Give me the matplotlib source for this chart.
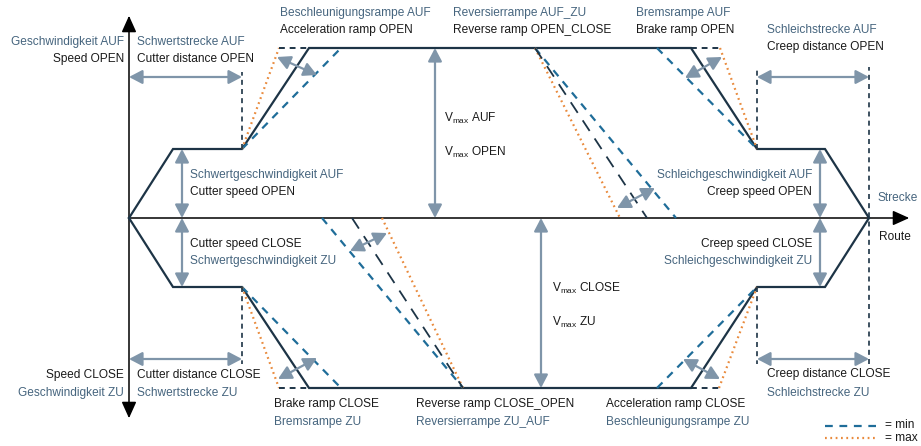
import matplotlib
matplotlib.use("Agg")
import matplotlib.pyplot as plt

# route positions (px from speed axis) and speed levels of the nominal profile
route = [0, 44, 113, 180, 562, 628, 696, 740]
speed_open = [0, 69, 69, 170, 170, 69, 69, 0]
speed_close = [0, -69, -69, -170, -170, -69, -69, 0]

# min / max ramp variants: (x0, v0, x1, v1)
ramps_min = [(113, 69, 212, 170), (406, 170, 547, 0), (528, 170, 628, 69),
             (113, -69, 212, -170), (193, 0, 334, -170), (528, -170, 628, -69)]
ramps_max = [(113, 69, 150, 170), (406, 170, 491, 0), (591, 170, 628, 69),
             (113, -69, 150, -170), (253, 0, 334, -170), (590, -170, 628, -69)]
ramps_nom = [(406, 170, 518, 0), (223, 0, 334, -170)]

NAVY = "#1d3446"
BLUE = "#1f6d99"
ORANGE = "#e98a3c"
GREY = "#7f95a9"
GER = "#46657e"
ENG = "#1a1a1a"

plt.rcParams['font.family'] = ['Liberation Sans', 'DejaVu Sans']
plt.rcParams['mathtext.fontset'] = 'custom'
plt.rcParams['mathtext.rm'] = 'Liberation Sans'

fig = plt.figure(figsize=(9.21, 4.46), dpi=100)
ax = fig.add_axes([0, 0, 1, 1])
ax.set_xlim(-129, 792)
ax.set_ylim(-228, 218)
ax.axis('off')

# coordinate axes
ax.plot([0, 0], [-196, 200], color='black', lw=1.1)
ax.plot([0, 775], [0, 0], color='black', lw=1.1)
head = '-|>,head_length=1.0,head_width=0.45'
ax.annotate('', xy=(0, 205), xytext=(0, 190),
            arrowprops=dict(arrowstyle=head, color='black', lw=1.1))
ax.annotate('', xy=(0, -203), xytext=(0, -188),
            arrowprops=dict(arrowstyle=head, color='black', lw=1.1))
ax.annotate('', xy=(783, 0), xytext=(765, 0),
            arrowprops=dict(arrowstyle=head, color='black', lw=1.1))

# nominal profiles
ax.plot(route, speed_open, color=NAVY, lw=1.6, solid_joinstyle='miter')
ax.plot(route, speed_close, color=NAVY, lw=1.6, solid_joinstyle='miter')

for x0, v0, x1, v1 in ramps_min:
    ax.plot([x0, x1], [v0, v1], color=BLUE, lw=1.6, dashes=(3.5, 3))
for x0, v0, x1, v1 in ramps_max:
    ax.plot([x0, x1], [v0, v1], color=ORANGE, lw=1.6, dashes=(0.8, 1.6))
for x0, v0, x1, v1 in ramps_nom:
    ax.plot([x0, x1], [v0, v1], color=NAVY, lw=1.3, dashes=(7, 5))

# short dashed extensions of the plateau
for x0, x1, v in [(150, 180, 170), (562, 591, 170), (150, 180, -170), (562, 590, -170)]:
    ax.plot([x0, x1], [v, v], color=NAVY, lw=1.4, dashes=(3, 2.5))

# dashed distance markers
for x, v0, v1 in [(113, 69, 146), (113, -69, -146), (628, 69, 151), (628, -69, -146), (740, -146, 151)]:
    ax.plot([x, x], [v0, v1], color=NAVY, lw=1.2, dashes=(3, 2.5))

def darrow(p0, p1):
    ax.annotate('', xy=p1, xytext=p0,
                arrowprops=dict(arrowstyle='<|-|>,head_length=0.8,head_width=0.42',
                                color=GREY, lw=1.6, shrinkA=0, shrinkB=0))

# ramp tolerance arrows
darrow((148, 161), (188, 143))
darrow((488, 10), (526, 30))
darrow((556, 140), (593, 161))
darrow((149, -161), (188, -140))
darrow((221, -33), (258, -15))
darrow((554, -141), (591, -161))
# distances
darrow((0, 141), (113, 141))
darrow((628, 141), (740, 141))
darrow((0, -141), (113, -141))
darrow((628, -141), (740, -141))
# speeds
darrow((53, 69), (53, 0))
darrow((53, 0), (53, -69))
darrow((691, 69), (691, 0))
darrow((691, 0), (691, -69))
darrow((306, 170), (306, 0))
darrow((412, 0), (412, -170))

FS = 8.6
def label(px, py, s, color, ha='left'):
    ax.text(px - 129, 218 - py, s, color=color, ha=ha, va='center', fontsize=FS)

label(124, 42, "Geschwindigkeit AUF", GER, 'right')
label(124, 59, "Speed OPEN", ENG, 'right')
label(137, 42, "Schwertstrecke AUF", GER)
label(137, 59, "Cutter distance OPEN", ENG)
label(280, 13, "Beschleunigungsrampe AUF", GER)
label(280, 30, "Acceleration ramp OPEN", ENG)
label(453, 13, "Reversierrampe AUF_ZU", GER)
label(453, 30, "Reverse ramp OPEN_CLOSE", ENG)
label(636, 13, "Bremsrampe AUF", GER)
label(636, 30, "Brake ramp OPEN", ENG)
label(767, 30, "Schleichstrecke AUF", GER)
label(767, 47, "Creep distance OPEN", ENG)
label(190, 175, "Schwertgeschwindigkeit AUF", GER)
label(190, 192, "Cutter speed OPEN", ENG)
label(444, 118, r"V$_{\mathrm{max}}$ AUF", ENG)
label(444, 152, r"V$_{\mathrm{max}}$ OPEN", ENG)
label(812, 175, "Schleichgeschwindigkeit AUF", GER, 'right')
label(812, 192, "Creep speed OPEN", ENG, 'right')
label(877, 198, "Strecke", GER)
label(879, 237, "Route", ENG)
label(190, 244, "Cutter speed CLOSE", ENG)
label(190, 261, "Schwertgeschwindigkeit ZU", GER)
label(812, 244, "Creep speed CLOSE", ENG, 'right')
label(812, 261, "Schleichgeschwindigkeit ZU", GER, 'right')
label(552, 288, r"V$_{\mathrm{max}}$ CLOSE", ENG)
label(552, 322, r"V$_{\mathrm{max}}$ ZU", ENG)
label(124, 375, "Speed CLOSE", ENG, 'right')
label(124, 393, "Geschwindigkeit ZU", GER, 'right')
label(137, 375, "Cutter distance CLOSE", ENG)
label(137, 393, "Schwertstrecke ZU", GER)
label(767, 374, "Creep distance CLOSE", ENG)
label(767, 393, "Schleichstrecke ZU", GER)
label(274, 404, "Brake ramp CLOSE", ENG)
label(274, 422, "Bremsrampe ZU", GER)
label(416, 404, "Reverse ramp CLOSE_OPEN", ENG)
label(416, 422, "Reversierrampe ZU_AUF", GER)
label(606, 404, "Acceleration ramp CLOSE", ENG)
label(606, 422, "Beschleunigungsrampe ZU", GER)

# legend
ax.plot([825 - 129, 876 - 129], [218 - 426, 218 - 426], color=BLUE, lw=1.6, dashes=(3.5, 3))
ax.plot([825 - 129, 876 - 129], [218 - 438, 218 - 438], color=ORANGE, lw=1.6, dashes=(0.8, 1.6))
label(885, 425, "= min", ENG)
label(885, 438, "= max", ENG)

fig.savefig("out.png", dpi=100)
